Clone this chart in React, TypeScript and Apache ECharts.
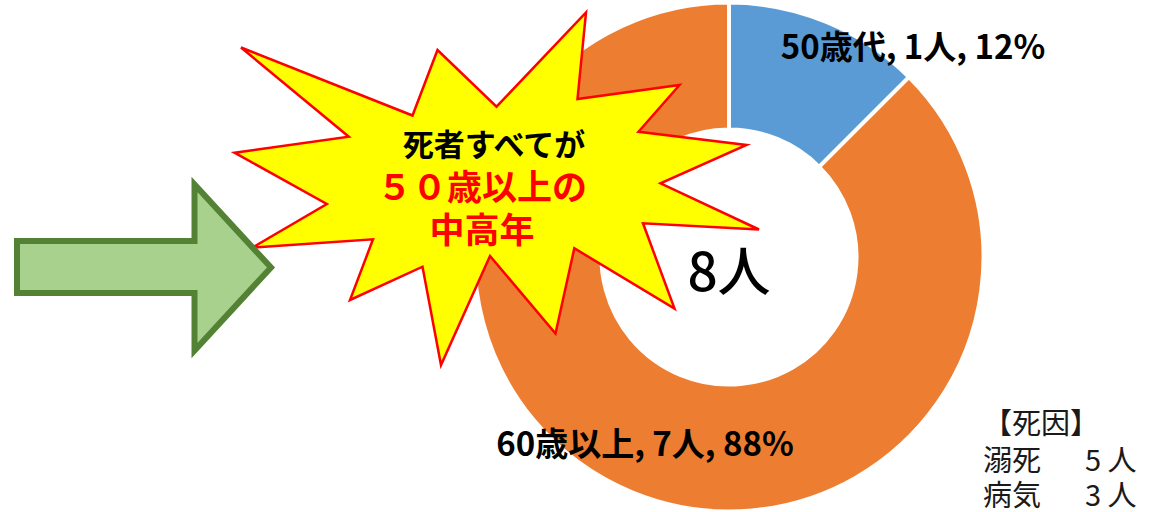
import React, { useEffect, useRef } from "react";
import * as echarts from "echarts";

// ---- data ----
const ageGroups = ["50歳代", "60歳以上"];
const deathCounts = [1, 7];
const shareLabels = ["12%", "88%"];
const sliceColors = ["#5B9BD5", "#ED7D31"];
const causeTitle = "【死因】";
const causeNames = ["溺死", "病気"];
const causeCounts = [5, 3];
const calloutLines = ["死者すべてが", "５０歳以上の", "中高年"];
const unit = "人";

const FONT = '"Noto Sans CJK JP", "Noto Sans", sans-serif';

export default function App() {
  const ref = useRef<HTMLDivElement>(null);

  useEffect(() => {
    document.body.style.margin = "0";
    if (!ref.current) return;
    const chart = echarts.init(ref.current, undefined, { renderer: "svg" });

    const total = deathCounts.reduce((a, b) => a + b, 0);
    const cx = 729;
    const cy = 257;

    const starPoints = [
      [241, 47.5], [412.5, 115.5], [437.5, 50], [496.5, 106.7], [586, 12.5],
      [577.5, 99], [679.5, 85], [638.5, 131.7], [746.5, 145], [660.5, 183.3],
      [759, 229.5], [643, 223.3], [674.5, 308.5], [574.3, 248.3], [555.5, 333.5],
      [490, 256], [441, 365], [422.5, 266.7], [350, 300], [373, 239.3],
      [252.5, 247.5], [326.8, 204], [234.5, 152.7], [348.8, 136.7],
    ];

    const arrowPoints = [
      [17, 241], [194.5, 241], [194.5, 184.5], [271, 267.5],
      [194.5, 350.5], [194.5, 293], [17, 293],
    ];

    const calloutText = calloutLines
      .map((t, i) => (i === 0 ? `{a|${t}}` : `{b|${t}}`))
      .join("\n");

    const legendText =
      `{t|${causeTitle}}\n` +
      causeNames.map((n, i) => `{n|${n}}{c|${causeCounts[i]} ${unit}}`).join("\n");

    const legendRow = { fontSize: 29, lineHeight: 35, fontFamily: FONT, fill: "#1a1a1a" };

    const graphics: any[] = [
      {
        type: "polygon",
        z: 10,
        shape: { points: starPoints },
        style: { fill: "#FFFF00", stroke: "#FF0000", lineWidth: 2.5, lineJoin: "miter" },
      },
      {
        type: "text",
        z: 12,
        x: 482,
        y: 121.5,
        style: {
          text: calloutText,
          align: "center",
          verticalAlign: "top",
          fontFamily: FONT,
          fontWeight: "bold",
          fill: "#FF0000",
          rich: {
            a: {
              fontSize: 31,
              lineHeight: 41,
              fontWeight: "bold",
              fontFamily: FONT,
              fill: "#000000",
              padding: [0, 0, 0, 24],
            },
            b: {
              fontSize: 35,
              lineHeight: 43,
              fontWeight: "bold",
              fontFamily: FONT,
              fill: "#FF0000",
            },
          },
        },
      },
      {
        type: "polygon",
        z: 14,
        shape: { points: arrowPoints },
        style: { fill: "#A9D18E", stroke: "#548235", lineWidth: 6, lineJoin: "miter", miterLimit: 10 },
      },
      {
        type: "text",
        z: 12,
        x: cx,
        y: 268,
        style: {
          text: `${total}${unit}`,
          fill: "#000000",
          fontSize: 53,
          fontWeight: 500,
          fontFamily: FONT,
          align: "center",
          verticalAlign: "middle",
        },
      },
      {
        type: "text",
        z: 12,
        x: 983,
        y: 402,
        style: {
          text: legendText,
          align: "left",
          verticalAlign: "top",
          fontFamily: FONT,
          fontSize: 29,
          fill: "#1a1a1a",
          rich: {
            t: { ...legendRow, lineHeight: 38 },
            n: { ...legendRow, width: 102 },
            c: { ...legendRow },
          },
        },
      },
    ];

    const labelPos = [
      { x: 913, y: 45 },
      { x: 645, y: 442 },
    ];

    chart.setOption({
      animation: false,
      backgroundColor: "#ffffff",
      series: [
        {
          type: "pie",
          center: [cx, cy],
          radius: [127.5, 254.5],
          startAngle: 90,
          clockwise: true,
          avoidLabelOverlap: false,
          itemStyle: { borderColor: "#ffffff", borderWidth: 4 },
          label: {
            show: true,
            position: "inside",
            color: "#000000",
            fontSize: 33,
            fontWeight: "bold",
            fontFamily: FONT,
            formatter: (p: any) => `${p.name}, ${p.value}${unit}, ${shareLabels[p.dataIndex]}`,
          },
          labelLine: { show: false },
          labelLayout: (p: any) => ({
            x: labelPos[p.dataIndex].x,
            y: labelPos[p.dataIndex].y,
            align: "center",
            verticalAlign: "middle",
          }),
          emphasis: { disabled: true },
          data: ageGroups.map((name, i) => ({
            name,
            value: deathCounts[i],
            itemStyle: { color: sliceColors[i] },
          })),
        },
      ],
      graphic: graphics,
    });

    return () => {
      chart.dispose();
    };
  }, []);

  return <div ref={ref} style={{ width: 1159, height: 512 }} />;
}
